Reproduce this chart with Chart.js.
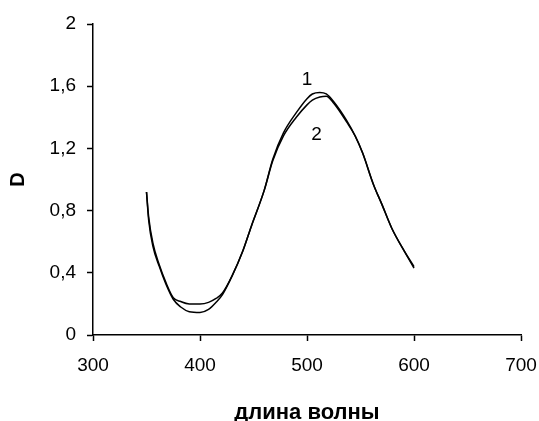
<!DOCTYPE html>
<html>
<head>
<meta charset="utf-8">
<script src="https://cdn.jsdelivr.net/npm/chart.js"></script>
<style>
  html, body { margin: 0; padding: 0; background: #fff; }
  canvas { display: block; }
</style>
</head>
<body>
<canvas id="chart" width="539" height="421"></canvas>
<script>
// Absorption spectra, wavelength in nm
const wavelength = [350, 352, 356, 362, 368, 375, 382, 390, 400, 408, 415, 421, 430, 440, 448, 460, 468, 478, 490, 500, 505, 512, 518, 525, 537, 545, 552, 562, 570, 579, 590, 600];
const curve1 = [0.92, 0.74, 0.57, 0.44, 0.33, 0.23, 0.18, 0.15, 0.145, 0.165, 0.21, 0.26, 0.38, 0.54, 0.70, 0.93, 1.13, 1.30, 1.43, 1.52, 1.55, 1.56, 1.55, 1.50, 1.38, 1.28, 1.17, 0.97, 0.84, 0.69, 0.55, 0.43];
const curve2 = [0.92, 0.76, 0.59, 0.45, 0.34, 0.24, 0.215, 0.20, 0.20, 0.21, 0.235, 0.27, 0.38, 0.54, 0.70, 0.93, 1.12, 1.28, 1.40, 1.48, 1.51, 1.53, 1.535, 1.49, 1.37, 1.28, 1.17, 0.97, 0.84, 0.69, 0.55, 0.44];
const yTicks = [0, 0.4, 0.8, 1.2, 1.6, 2];
const xTicks = [300, 400, 500, 600, 700];

// curve numbers placed next to the peak
const curveLabels = [
  { text: '1', x: 500, y: 1.64 },
  { text: '2', x: 509, y: 1.29 }
];

const FONT = '"Liberation Sans", Arial, sans-serif';

const toPoints = (ys) => wavelength.map((x, i) => ({ x, y: ys[i] }));

const curveLabelPlugin = {
  id: 'curveLabels',
  afterDatasetsDraw(chart) {
    const { ctx, scales } = chart;
    ctx.save();
    ctx.font = `19px ${FONT}`;
    ctx.fillStyle = '#000';
    ctx.textAlign = 'center';
    ctx.textBaseline = 'middle';
    curveLabels.forEach(l => {
      ctx.fillText(l.text, scales.x.getPixelForValue(l.x), scales.y.getPixelForValue(l.y));
    });
    ctx.restore();
  }
};

const lineStyle = {
  borderColor: '#000',
  borderWidth: 1.5,
  pointRadius: 0,
  fill: false,
  cubicInterpolationMode: 'monotone'
};

new Chart(document.getElementById('chart'), {
  type: 'line',
  data: {
    datasets: [
      { label: '1', data: toPoints(curve1), ...lineStyle },
      { label: '2', data: toPoints(curve2), ...lineStyle }
    ]
  },
  options: {
    responsive: false,
    devicePixelRatio: 1,
    animation: false,
    layout: { padding: { top: 24, right: 8, left: 0, bottom: 0 } },
    plugins: {
      legend: { display: false },
      tooltip: { enabled: false }
    },
    scales: {
      x: {
        type: 'linear',
        min: 300,
        max: 700,
        afterBuildTicks: (scale) => { scale.ticks = xTicks.map(v => ({ value: v })); },
        afterFit: (scale) => {
          scale.height = 86;
          scale.paddingRight = 18;
        },
        border: { color: '#000', width: 1.5 },
        grid: { drawOnChartArea: false, tickLength: 6, tickColor: '#000', tickWidth: 1.5 },
        ticks: {
          color: '#000',
          padding: 13,
          maxRotation: 0,
          font: { family: FONT, size: 19 }
        },
        title: {
          display: true,
          text: 'длина волны',
          color: '#000',
          font: { family: FONT, size: 22, weight: 'bold', lineHeight: 0.7 },
          padding: { top: 0, bottom: 0 }
        }
      },
      y: {
        min: 0,
        max: 2,
        afterBuildTicks: (scale) => { scale.ticks = yTicks.map(v => ({ value: v })); },
        afterFit: (scale) => { scale.width = 93; },
        border: { color: '#000', width: 1.5 },
        grid: { drawOnChartArea: false, tickLength: 6, tickColor: '#000', tickWidth: 1.5 },
        ticks: {
          color: '#000',
          padding: 11,
          font: { family: FONT, size: 19 },
          callback: (v) => String(v).replace('.', ',')
        },
        title: {
          display: true,
          text: 'D',
          color: '#000',
          font: { family: FONT, size: 20, weight: 'bold', lineHeight: 1.2 },
          padding: { top: 6, bottom: 0 }
        }
      }
    }
  },
  plugins: [curveLabelPlugin]
});
</script>
</body>
</html>
